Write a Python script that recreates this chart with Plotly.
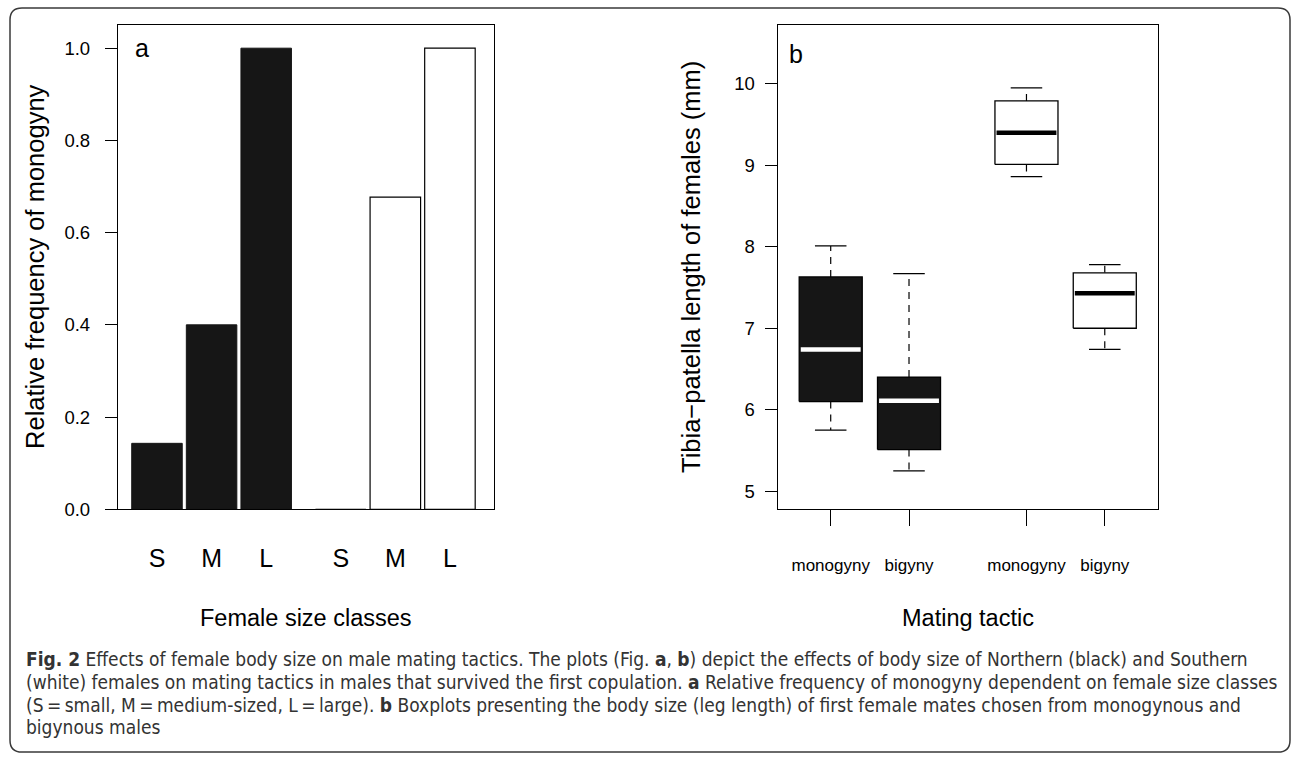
import plotly.graph_objects as go

# ---------------- data ----------------
size_classes = ["S", "M", "L"]
north_freq = [0.143, 0.40, 1.00]      # Northern (black)
south_freq = [0.00, 0.677, 1.00]      # Southern (white)

tactics = ["monogyny", "bigyny"]
# Northern (black) boxes: monogyny, bigyny
north_low = [5.75, 5.25]
north_q1 = [6.10, 5.51]
north_med = [6.74, 6.11]
north_q3 = [7.63, 6.40]
north_high = [8.01, 7.67]
# Southern (white) boxes: monogyny, bigyny
south_low = [8.86, 6.74]
south_q1 = [9.01, 7.00]
south_med = [9.40, 7.43]
south_q3 = [9.79, 7.68]
south_high = [9.95, 7.78]

yticks_a = [0.0, 0.2, 0.4, 0.6, 0.8, 1.0]
yticks_b = [5, 6, 7, 8, 9, 10]

# ---------------- layout helpers ----------------
W, H = 1293, 766
def px(x):
    return x / W
def py(y):
    return 1 - y / H

SANS = "Liberation Sans, Arial, Helvetica, sans-serif"
CAPF = "DejaVu Sans Condensed, Liberation Sans Narrow, sans-serif"
BLACK = "#161616"

fig = go.Figure()

# ---------------- panel a: bars ----------------
group_gap_a = 3.365
bar_w = 0.925
xa_n = [0 * group_gap_a + k for k in range(len(size_classes))]
xa_s = [1 * group_gap_a + k for k in range(len(size_classes))]

fig.add_trace(go.Bar(x=xa_n, y=north_freq, width=bar_w, xaxis="x", yaxis="y",
                     marker=dict(color=BLACK, line=dict(color=BLACK, width=1)),
                     name="Northern", showlegend=False))
fig.add_trace(go.Bar(x=xa_s, y=south_freq, width=bar_w, xaxis="x", yaxis="y",
                     marker=dict(color="white", line=dict(color="black", width=1.2)),
                     name="Southern", showlegend=False))

# ---------------- panel b: boxes ----------------
group_gap_b = 2.5
box_w = 0.805

def add_box(c, lo, q1, med, q3, hi, fill, medcol):
    h = box_w / 2
    fig.add_trace(go.Scatter(x=[c, c, None, c, c], y=[q3, hi, None, q1, lo],
                             mode="lines", xaxis="x2", yaxis="y2", showlegend=False,
                             line=dict(color="black", width=1.2, dash="7px,6px"),
                             hoverinfo="skip"))
    s = box_w / 4
    fig.add_trace(go.Scatter(x=[c - s, c + s, None, c - s, c + s], y=[hi, hi, None, lo, lo],
                             mode="lines", xaxis="x2", yaxis="y2", showlegend=False,
                             line=dict(color="black", width=1.3), hoverinfo="skip"))
    fig.add_trace(go.Scatter(x=[c - h, c + h, c + h, c - h, c - h], y=[q1, q1, q3, q3, q1],
                             mode="lines", fill="toself", fillcolor=fill,
                             xaxis="x2", yaxis="y2", showlegend=False,
                             line=dict(color="black", width=1.3), hoverinfo="skip"))
    m = h * 0.95
    fig.add_trace(go.Scatter(x=[c - m, c + m], y=[med, med], mode="lines",
                             xaxis="x2", yaxis="y2", showlegend=False,
                             line=dict(color=medcol, width=4.5), hoverinfo="skip"))

xb_n = [0 * group_gap_b + k for k in range(len(tactics))]
xb_s = [1 * group_gap_b + k for k in range(len(tactics))]
for i in range(len(tactics)):
    add_box(xb_n[i], north_low[i], north_q1[i], north_med[i], north_q3[i], north_high[i], BLACK, "white")
for i in range(len(tactics)):
    add_box(xb_s[i], south_low[i], south_q1[i], south_med[i], south_q3[i], south_high[i], "white", "black")

# ---------------- axes ----------------
axis_common = dict(showline=True, mirror=True, linecolor="black", linewidth=1.4,
                   showgrid=False, zeroline=False, ticks="outside", tickcolor="black",
                   tickwidth=1.3)

fig.update_layout(
    width=W, height=H,
    margin=dict(l=0, r=0, t=0, b=0),
    paper_bgcolor="white", plot_bgcolor="white",
    barmode="overlay",
    xaxis=dict(domain=[px(118), px(494)], range=[-0.714, 6.172], anchor="y",
               tickvals=xa_n + xa_s, ticktext=size_classes + size_classes,
               tickfont=dict(family=SANS, size=25, color="black"),
               ticklabelstandoff=27, **{**axis_common, "ticks": "", "ticklen": 0}),
    yaxis=dict(domain=[py(516), py(25)], range=[0, 1.051], anchor="x",
               tickvals=yticks_a, ticktext=[f"{v:.1f}" for v in yticks_a],
               tickfont=dict(family=SANS, size=18.5, color="black"),
               ticklen=12, ticklabelstandoff=11, **axis_common),
    xaxis2=dict(domain=[px(777.7), px(1157.7)], range=[-0.677, 4.176], anchor="y2",
                tickvals=xb_n + xb_s, ticktext=tactics + tactics,
                tickfont=dict(family=SANS, size=17, color="black"),
                ticklen=16, ticklabelstandoff=24, **axis_common),
    yaxis2=dict(domain=[py(516), py(25)], range=[4.778, 10.726], anchor="x2",
                tickvals=yticks_b, ticktext=[str(v) for v in yticks_b],
                tickfont=dict(family=SANS, size=18.5, color="black"),
                ticklen=12, ticklabelstandoff=6, **axis_common),
)

# ---------------- text annotations ----------------
def note(x, y, text, size, family=SANS, angle=0, xanchor="center", color="black"):
    return dict(x=px(x), y=py(y), text=text, showarrow=False, xref="paper", yref="paper",
                xanchor=xanchor, yanchor="middle", textangle=angle,
                font=dict(family=family, size=size, color=color))

ann = [
    note(141.7, 49, "a", 25),
    note(795.7, 55, "b", 25),
    note(35, 270.5, "Relative frequency of monogyny", 25.5, angle=-90),
    note(691, 270.5, "Tibia\u2212patella length of females (mm)", 25.5, angle=-90),
    note(306, 626, "Female size classes", 23.5),
    note(967.5, 626, "Mating tactic", 23.5),
]

caption = [
    "<b>Fig. 2</b> Effects of female body size on male mating tactics. The plots (Fig. <b>a</b>, <b>b</b>) depict the effects of body size of Northern (black) and Southern",
    "(white) females on mating tactics in males that survived the first copulation. <b>a</b> Relative frequency of monogyny dependent on female size classes",
    "(S\u2009=\u2009small, M\u2009=\u2009medium-sized, L\u2009=\u2009large). <b>b</b> Boxplots presenting the body size (leg length) of first female mates chosen from monogynous and",
    "bigynous males",
]
cap_y = [668, 691, 714, 737]
for t, yy in zip(caption, cap_y):
    ann.append(note(24, yy, t, 19, family=CAPF, xanchor="left", color="#333333"))
fig.update_layout(annotations=ann)

# ---------------- outer rounded frame ----------------
L, T, R, B, r = 10, 8, 1290, 762, 12
path = (f"M {px(L)},{py(T + r)} Q {px(L)},{py(T)} {px(L + r)},{py(T)} "
        f"L {px(R - r)},{py(T)} Q {px(R)},{py(T)} {px(R)},{py(T + r)} "
        f"L {px(R)},{py(B - r)} Q {px(R)},{py(B)} {px(R - r)},{py(B)} "
        f"L {px(L + r)},{py(B)} Q {px(L)},{py(B)} {px(L)},{py(B - r)} Z")
fig.add_shape(type="path", path=path, xref="paper", yref="paper",
              line=dict(color="#3a3a3a", width=1.5), layer="above")

fig.write_html(
    "out.html", config={"displayModeBar": False},
    post_script=("document.documentElement.style.margin='0';"
                 "document.documentElement.style.overflow='hidden';"
                 "document.body.style.margin='0';"
                 "document.body.style.overflow='hidden';"))
